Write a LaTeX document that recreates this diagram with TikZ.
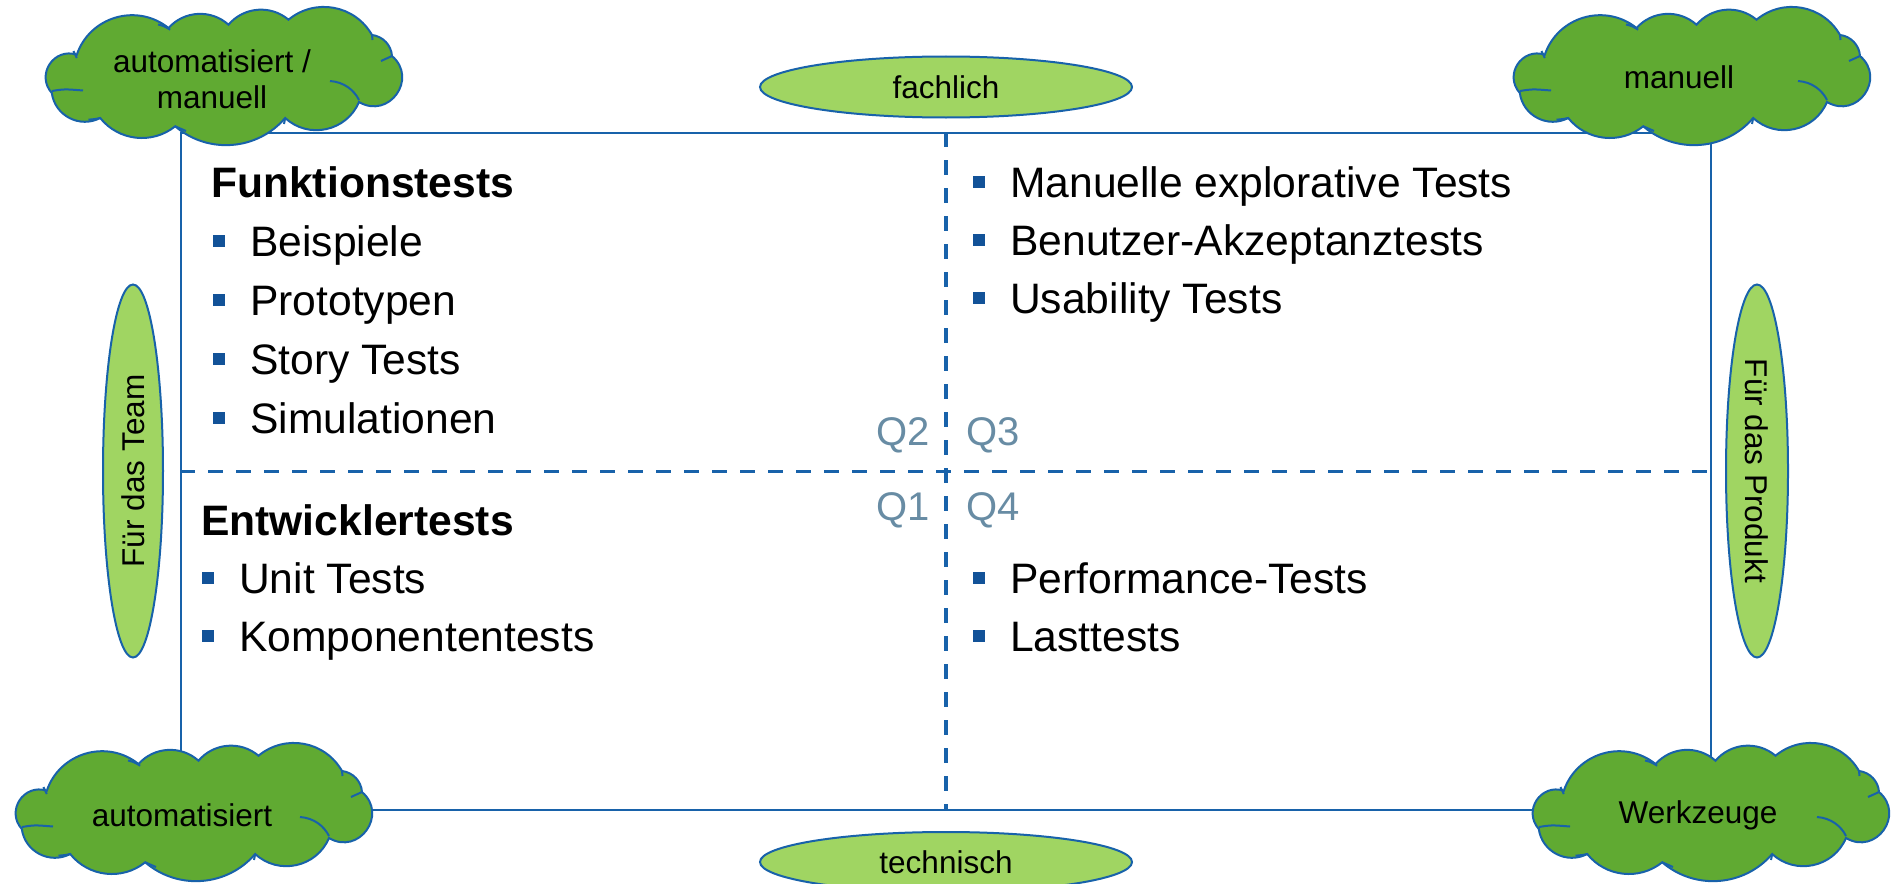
\documentclass[tikz,border=0pt]{standalone}
\usepackage{fontspec}
\setmainfont{Liberation Sans}
\usetikzlibrary{shapes.geometric,calc}

\definecolor{frameblue}{RGB}{24,98,170}
\definecolor{leafgreen}{RGB}{96,170,50}
\definecolor{palegreen}{RGB}{160,213,98}
\definecolor{quadgray}{RGB}{104,140,164}
\definecolor{bulletblue}{RGB}{18,82,152}

\tikzset{
  framebox/.style={draw=frameblue, line width=2pt, minimum width=1530pt,
    minimum height=677pt, inner sep=0pt},
  divider/.style={draw=frameblue, line width=3.3pt, dash pattern=on 15pt off 13pt},
  cloudline/.style={draw=frameblue, line width=2pt, fill=leafgreen},
  cloudstroke/.style={draw=frameblue, line width=2pt},
  cloudtext/.style={font=\fontsize{31.5}{36}\selectfont, align=center, inner sep=0pt},
  axis/.style={ellipse, draw=frameblue, line width=2pt, fill=palegreen,
    inner sep=0pt, font=\fontsize{31.5}{36}\selectfont},
  heading/.style={anchor=base west, inner sep=0pt,
    font=\fontsize{42.6}{50}\selectfont\bfseries},
  entry/.style={anchor=base west, inner sep=0pt, font=\fontsize{42.6}{50}\selectfont},
  bulletsq/.style={rectangle, fill=bulletblue, minimum size=12pt, inner sep=0pt},
  quadlabel/.style={anchor=base west, inner sep=0pt, text=quadgray,
    font=\fontsize{40}{48}\selectfont},
}

% cloud outline around the current origin (units: px, y pointing down)
\newcommand{\puffcloud}[1]{%
  \begin{scope}[shift={#1}]
    \path[cloudline] (-147.2,-23.3)
      to[bend left=55,looseness=1.08] (-55.5,-50)
      to[bend left=45,looseness=1.0] (4.5,-53.3)
      to[bend left=45,looseness=1.0] (64.5,-58.3)
      to[bend left=50,looseness=1.04] (148,-43)
      to[bend left=40,looseness=0.96] (168,-22)
      to[bend left=85,looseness=1.57] (135,24)
      to[bend left=55,looseness=1.08] (61.2,40)
      to[bend left=45,looseness=1.0] (-48.8,48.3)
      to[bend left=45,looseness=1.0] (-123.8,40)
      to[bend left=55,looseness=1.08] (-172.2,15)
      to[bend left=75,looseness=1.36] (-147.2,-23.3) -- cycle;
    % inner creases of the puffs
    \draw[cloudstroke] (-172,13) .. controls (-160,11) .. (-141,12.5);
    \draw[cloudstroke] (106,3) .. controls (120,4) and (130,12) .. (135,22);
    \draw[cloudstroke] (-66,-53.5) .. controls (-60,-52) .. (-53.8,-48.3);
    \draw[cloudstroke] (-150.5,-27) -- (-147.2,-20);
    \draw[cloudstroke] (148,-43) -- (148.5,-38);
    \draw[cloudstroke] (-123.8,40) .. controls (-128,41) .. (-135.5,41.7);
    \draw[cloudstroke] (-48.8,48.3) .. controls (-44,51) .. (-38,53);
    \draw[cloudstroke] (61.2,40) -- (60,46);
    \draw[cloudstroke] (168,-22) .. controls (163,-19) .. (157,-17);
  \end{scope}}

% bulleted entry: name, x, baseline, text
\newcommand{\bulletentry}[4]{%
  \node[entry] (#1) at (#2,#3) {#4};
  \node[bulletsq] (#1-sq) at ($(#1.base west)+(-31,-15.5)$) {};}

\begin{document}
\begin{tikzpicture}[x=1pt,y=-1pt]
  \useasboundingbox (0,0) rectangle (1894,883);

  % quadrant frame and the two axes
  \node[framebox] (frame) at (946,471.5) {};
  \draw[divider] (frame.north) -- (frame.south);
  \draw[divider] (frame.west) -- (frame.east);

  % axis captions
  \node[axis, minimum width=372pt, minimum height=61pt] (fachlich) at (946,87) {fachlich};
  \node[axis, minimum width=372pt, minimum height=60pt] (technisch) at (946,862) {technisch};
  \node[axis, rotate=90, minimum width=373pt, minimum height=60pt] (team) at (133,471) {Für das Team};
  \node[axis, rotate=-90, minimum width=373pt, minimum height=62pt] (produkt) at (1757,471) {Für das Produkt};

  % corner clouds
  \puffcloud{(224,78)}
  \node[cloudtext] (cloudTL) at (212,79) {automatisiert /\\manuell};
  \puffcloud{(1692,78)}
  \node[cloudtext] (cloudTR) at (1679,77) {manuell};
  \puffcloud{(194,814)}
  \node[cloudtext] (cloudBL) at (182,815) {automatisiert};
  \puffcloud{(1711,814)}
  \node[cloudtext] (cloudBR) at (1698,815) {Werkzeuge};

  % quadrant numbers
  \node[quadlabel] (q2) at (876,445) {Q2};
  \node[quadlabel] (q3) at (966,445) {Q3};
  \node[quadlabel] (q1) at (876,520) {Q1};
  \node[quadlabel] (q4) at (966,520) {Q4};

  % Q2: business-facing tests supporting the team
  \node[heading] (q2head) at (211,197) {Funktionstests};
  \bulletentry{beispiele}{250}{256}{Beispiele}
  \bulletentry{prototypen}{250}{315}{Prototypen}
  \bulletentry{story}{250}{374}{Story Tests}
  \bulletentry{simulation}{250}{433}{Simulationen}

  % Q1: technology-facing tests supporting the team
  \node[heading] (q1head) at (201,535) {Entwicklertests};
  \bulletentry{unit}{239}{593}{Unit Tests}
  \bulletentry{komponenten}{239}{651}{Komponententests}

  % Q3: business-facing tests critiquing the product
  \bulletentry{explorativ}{1010}{197}{Manuelle explorative Tests}
  \bulletentry{akzeptanz}{1010}{255}{Benutzer-Akzeptanztests}
  \bulletentry{usability}{1010}{313}{Usability Tests}

  % Q4: technology-facing tests critiquing the product
  \bulletentry{performance}{1010}{593}{Performance-Tests}
  \bulletentry{last}{1010}{651}{Lasttests}
\end{tikzpicture}
\end{document}
